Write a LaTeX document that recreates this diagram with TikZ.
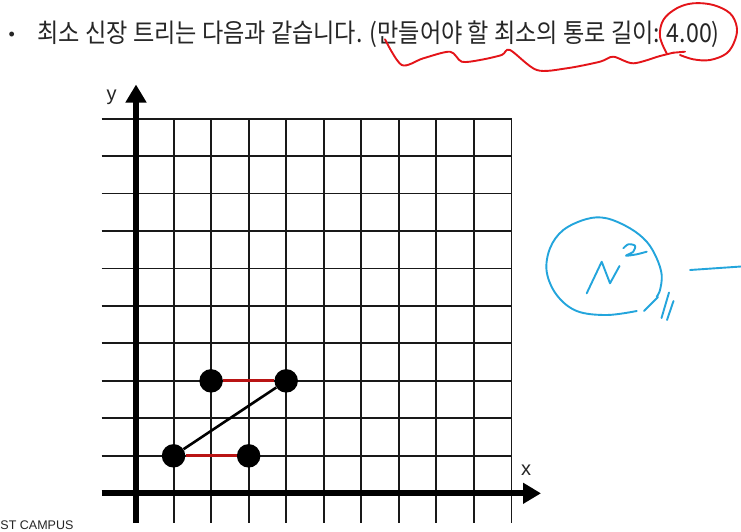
\documentclass[tikz,border=0pt]{standalone}
\usepackage{fontspec}
\setmainfont{Liberation Sans}
\newfontfamily\krfont{Noto Sans CJK KR}
\usetikzlibrary{arrows.meta}
\definecolor{edgered}{RGB}{185,20,20}
\definecolor{penred}{RGB}{228,20,25}
\definecolor{penblue}{RGB}{35,165,220}
\definecolor{txtgray}{RGB}{38,38,38}
\tikzset{
  gridline/.style={line width=1.9pt, black!90},
  axisline/.style={line width=6pt, black, -{Triangle[length=18pt,width=20pt]}},
  dot/.style={circle, fill=black, minimum size=23.5pt, inner sep=0pt},
  rededge/.style={line width=2.8pt, edgered},
  blackedge/.style={line width=2.6pt, black},
  pen/.style={line width=1.9pt, line cap=round, line join=round},
  axislabel/.style={font=\fontsize{20}{22}\selectfont, inner sep=0pt, text=black!85},
}
\begin{document}
\begin{tikzpicture}[x=1pt,y=-1pt]
\useasboundingbox[fill=white] (0,0) rectangle (741,531);
% grid
\foreach \i in {1,...,10} {
  \pgfmathsetmacro\xx{136+37.55*\i}
  \draw[gridline] (\xx,118.3) -- (\xx,523);
}
\foreach \j in {1,...,10} {
  \pgfmathsetmacro\yy{493.3-37.47*\j}
  \draw[gridline] (101.7,\yy) -- (511.5,\yy);
}
% axes
\coordinate (xs) at (101.7,493.3);
\coordinate (xe) at (541,493.3);
\coordinate (ys) at (136,523);
\coordinate (ye) at (136,84.5);
\draw[axisline] (xs) -- (xe);
\draw[axisline] (ys) -- (ye);
\node[axislabel] (ylab) at (111.5,97) {y};
\node[axislabel] (xlab) at (526,470) {x};
% points
\node[dot] (p1) at (173.55,455.83) {};
\node[dot] (p2) at (248.65,455.83) {};
\node[dot] (p3) at (211.1,380.86) {};
\node[dot] (p4) at (286.2,380.86) {};
\draw[rededge] (p1) -- (p2);
\draw[rededge] (p3) -- (p4);
\draw[blackedge] (p1) -- (p4);
% title
\node[anchor=base, inner sep=0pt, text=txtgray, font=\fontsize{18}{20}\selectfont] (bullet) at (11.7,40.8) {•};
\node[anchor=base west, inner sep=0pt, text=txtgray] (title) at (37.3,42)
  {\krfont\fontsize{26}{30}\selectfont\scalebox{0.89}[1]{최소 신장 트리는 다음과 같습니다. (만들어야 할 최소의 통로 길이: 4.00)}};
% footer
\node[anchor=base west, inner sep=0pt, text=txtgray, font=\fontsize{12.5}{14}\selectfont] (foot) at (0.3,529.6) {ST CAMPUS};
% red pen marks
\draw[pen, penred] plot[smooth, tension=0.5] coordinates {
  (385,39.3) (401.7,65) (423.3,58.3) (450,51.7) (461.7,61.7) (480,60) (501.7,55)
  (510,50) (536.7,70) (566.7,68.3) (600,61.7) (613.3,56.7) (633.3,63.3) (660,56) (673.3,52.7)};
\draw[pen, penred] (673.3,52.7) -- (685,51.7);
\draw[pen, penred] plot[smooth, tension=0.6] coordinates {
  (666.7,53.3) (660,36.7) (663.3,20) (676.7,8.3) (693.3,3.3) (713.3,5) (730,13.3)
  (736.7,26.7) (735,40) (726.7,53.3) (710,60) (693.3,59.3) (680,55)};
% blue pen marks
\draw[pen, penblue] plot[smooth, tension=0.6] coordinates {
  (636.7,311) (606.7,315) (576.7,311) (556.7,295) (546.7,271.7) (550,248.3)
  (563.3,230) (586.7,219) (606.7,218.3) (630,228.3) (646.7,241.7) (656.7,258.3)
  (661.7,275) (660,290) (656.7,296.7)};
\draw[pen, penblue] (586.7,293.3) -- (601.7,261.7) -- (610,283.3) -- (619.5,266);
\draw[pen, penblue] plot[smooth, tension=0.5] coordinates {
  (623.3,248.3) (628.3,244.3) (635,245.7) (633.3,251.7) (626,255.7) (636.7,254.3) (646.7,251.7)};
\draw[pen, penblue] (644,311) -- (658,297);
\draw[pen, penblue] (661.5,318) -- (669,292.5);
\draw[pen, penblue] (667,320) -- (673.5,301);
\draw[pen, penblue] (690,270) -- (741,266.5);
\end{tikzpicture}
\end{document}
